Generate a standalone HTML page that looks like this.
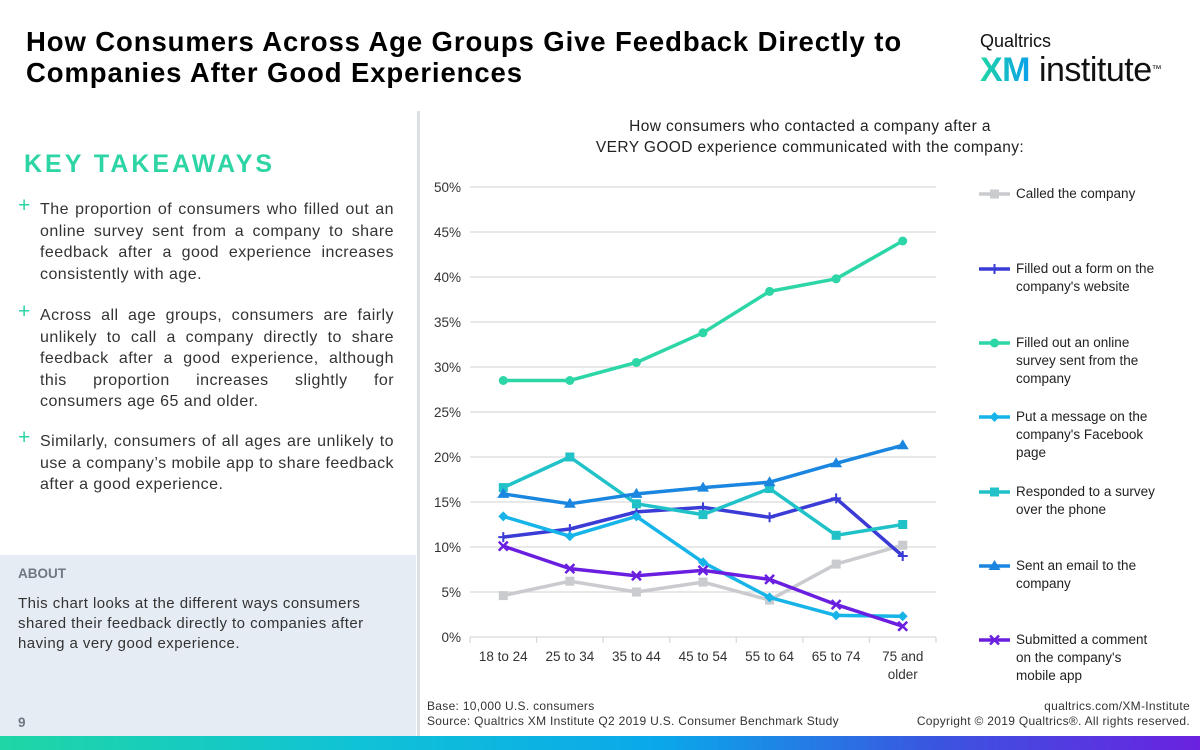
<!DOCTYPE html>
<html><head><meta charset="utf-8">
<style>
*{margin:0;padding:0;box-sizing:border-box}
body{width:1200px;height:750px;position:relative;background:#fff;font-family:"Liberation Sans",sans-serif;overflow:hidden;color:#222}
.abs{position:absolute}
#title{left:26px;top:26px;font-size:27.5px;font-weight:bold;line-height:31px;color:#000;letter-spacing:0.9px;white-space:nowrap}
#kt{left:24px;top:150px;font-size:25px;font-weight:bold;color:#2dd4a4;letter-spacing:3px}
.bul{position:absolute;left:18px;width:376px;font-size:16px;line-height:21.5px;color:#333;padding-left:22px;text-align:justify;letter-spacing:0.45px}
.bul:before{content:"+";position:absolute;left:0;top:-4px;color:#2dd4a4;font-size:21px}
#about{left:0;top:555px;width:416px;height:181px;background:#e5ecf4}
#divider{left:417px;top:111px;width:3px;height:625px;background:#dde1e6}
#grad{left:0;top:736px;width:1200px;height:14px;background:linear-gradient(90deg,#1fd6a5 0%,#10c2d6 30%,#0aa8ea 55%,#3a55e0 78%,#6a22e0 100%)}
.small{font-size:12px;color:#333;letter-spacing:0.3px}
</style></head><body>
<div id="title" class="abs">How Consumers Across Age Groups Give Feedback Directly to<br>Companies After Good Experiences</div>
<div class="abs" style="left:980px;top:30px;">
<div style="font-size:18px;color:#111;line-height:22px">Qualtrics</div>
<div style="font-size:34px;line-height:36px;color:#111;letter-spacing:-0.5px;white-space:nowrap"><span style="font-weight:bold;background:linear-gradient(90deg,#1fd6a5,#0aa0ea);-webkit-background-clip:text;color:transparent">XM</span> institute<sup style="font-size:10px;vertical-align:top">™</sup></div>
</div>
<div id="divider" class="abs"></div>
<div id="kt" class="abs">KEY TAKEAWAYS</div>
<div class="bul" style="top:199px">The proportion of consumers who filled out an online survey sent from a company to share feedback after a good experience increases consistently with age.</div>
<div class="bul" style="top:305px">Across all age groups, consumers are fairly unlikely to call a company directly to share feedback after a good experience, although this proportion increases slightly for consumers age 65 and older.</div>
<div class="bul" style="top:431px">Similarly, consumers of all ages are unlikely to use a company’s mobile app to share feedback after a good experience.</div>
<div id="about" class="abs">
<div style="position:absolute;left:18px;top:11px;font-size:13.5px;font-weight:bold;color:#6f7780">ABOUT</div>
<div style="position:absolute;left:18px;top:39px;width:385px;font-size:15px;line-height:20px;color:#333;letter-spacing:0.45px">This chart looks at the different ways consumers shared their feedback directly to companies after having a very good experience.</div>
<div style="position:absolute;left:18px;top:160px;font-size:13.5px;font-weight:bold;color:#6f7780">9</div>
</div>
<div class="abs" style="left:540px;top:116px;width:540px;text-align:center;font-size:15.5px;line-height:21px;color:#222;letter-spacing:0.4px">How consumers who contacted a company after a<br>VERY GOOD experience communicated with the company:</div>
<svg class="abs" style="left:0;top:0" width="1200" height="750" id="chart"></svg>
<div class="abs small" style="left:427px;top:699px;line-height:15px;white-space:nowrap">Base: 10,000 U.S. consumers<br>Source: Qualtrics XM Institute Q2 2019 U.S. Consumer Benchmark Study</div>
<div class="abs small" style="right:10px;top:699px;line-height:15px;text-align:right;white-space:nowrap">qualtrics.com/XM-Institute<br>Copyright © 2019 Qualtrics®. All rights reserved.</div>
<div id="grad" class="abs"></div>
<script>
const categories=["18 to 24","25 to 34","35 to 44","45 to 54","55 to 64","65 to 74","75 and|older"];
const yTicks=[0,5,10,15,20,25,30,35,40,45,50];
const seriesNames=["Called the company","Filled out a form on the|company's website","Filled out an online|survey sent from the|company","Put a message on the|company's Facebook|page","Responded to a survey|over the phone","Sent an email to the|company","Submitted a comment|on the company's|mobile app"];
const called=[4.6,6.2,5.0,6.1,4.1,8.1,10.2];
const form=[11.1,12.0,13.9,14.4,13.3,15.4,9.0];
const onlineSurvey=[28.5,28.5,30.5,33.8,38.4,39.8,44.0];
const facebook=[13.4,11.2,13.4,8.3,4.4,2.4,2.3];
const phone=[16.6,20.0,14.8,13.6,16.5,11.3,12.5];
const email=[15.9,14.8,15.9,16.6,17.2,19.3,21.3];
const mobileApp=[10.1,7.6,6.8,7.4,6.4,3.6,1.2];
const series=[called,form,onlineSurvey,facebook,phone,email,mobileApp];
const colors=["#c9cbce","#3b3bd6","#2dd6a6","#16b4e8","#20c2c8","#1a86e0","#6a1fe0"];
const markers=["square","plus","circle","diamond","square","triangle","x"];
const legendY=[198,273,347,421,496,570,644];
const svg=document.getElementById('chart');
const NS="http://www.w3.org/2000/svg";
const x0=470,x1=936,yBase=637,yTop=187;
const bw=(x1-x0)/categories.length;
const X=i=>x0+bw*(i+0.5);
const Y=v=>yBase-(v/50)*(yBase-yTop);
function mk(t,a,p){const e=document.createElementNS(NS,t);for(const k in a)e.setAttribute(k,a[k]);(p||svg).appendChild(e);return e;}
yTicks.forEach(t=>{
 const l=mk('line',{x1:x0,x2:x1,y1:Y(t),y2:Y(t),stroke:'#d9d9d9','stroke-width':1.3});
 
 
 const tx=mk('text',{x:461,y:Y(t)+5,'text-anchor':'end','font-size':13.5,fill:'#333','font-family':'Liberation Sans'});
 tx.textContent=t+'%';
 
 
});
for(let i=0;i<=categories.length;i++){
 const l=mk('line',{x1:x0+bw*i,x2:x0+bw*i,y1:yBase,y2:yBase+6,stroke:'#d9d9d9','stroke-width':1.3});
 
 
}
categories.forEach((c,i)=>{
 c.split('|').forEach((s,j)=>{
  const tx=mk('text',{x:X(i),y:yBase+24+j*18,'text-anchor':'middle','font-size':13.5,fill:'#333','font-family':'Liberation Sans'});
  tx.textContent=s;
  
  
 });
});
function marker(type,x,y,c,g){
 let e;
 if(type=='square')e=mk('rect',{x:x-4.5,y:y-4.5,width:9,height:9,fill:c},g);
 else if(type=='circle')e=mk('circle',{cx:x,cy:y,r:4.5,fill:c},g);
 else if(type=='diamond')e=mk('polygon',{points:`${x},${y-5} ${x+5},${y} ${x},${y+5} ${x-5},${y}`,fill:c},g);
 else if(type=='triangle')e=mk('polygon',{points:`${x},${y-6} ${x+6},${y+4} ${x-6},${y+4}`,fill:c},g);
 else if(type=='plus')e=mk('path',{d:`M${x-5},${y}H${x+5}M${x},${y-5}V${y+5}`,stroke:c,'stroke-width':2},g);
 else e=mk('path',{d:`M${x-4.5},${y-4.5}L${x+4.5},${y+4.5}M${x+4.5},${y-4.5}L${x-4.5},${y+4.5}`,stroke:c,'stroke-width':2.5},g);
 
 
}
series.forEach((d,s)=>{
 const g=mk('g',{});
 
 
 const p=mk('polyline',{points:d.map((v,i)=>X(i)+','+Y(v)).join(' '),fill:'none',stroke:colors[s],'stroke-width':3.5,'stroke-linejoin':'round'},g);
 
 
 d.forEach((v,i)=>marker(markers[s],X(i),Y(v),colors[s],g));
 const lg=mk('g',{});
 
 
 const ly=legendY[s]-4;
 const ll=mk('line',{x1:979,x2:1010,y1:ly,y2:ly,stroke:colors[s],'stroke-width':3.5},lg);
 
 
 marker(markers[s],994.5,ly,colors[s],lg);
 seriesNames[s].split('|').forEach((t,j)=>{
  const tx=mk('text',{x:1016,y:legendY[s]+j*18,'font-size':13.5,fill:'#222','font-family':'Liberation Sans'},lg);
  tx.textContent=t;
  
  
 });
});
</script>
</body></html>
